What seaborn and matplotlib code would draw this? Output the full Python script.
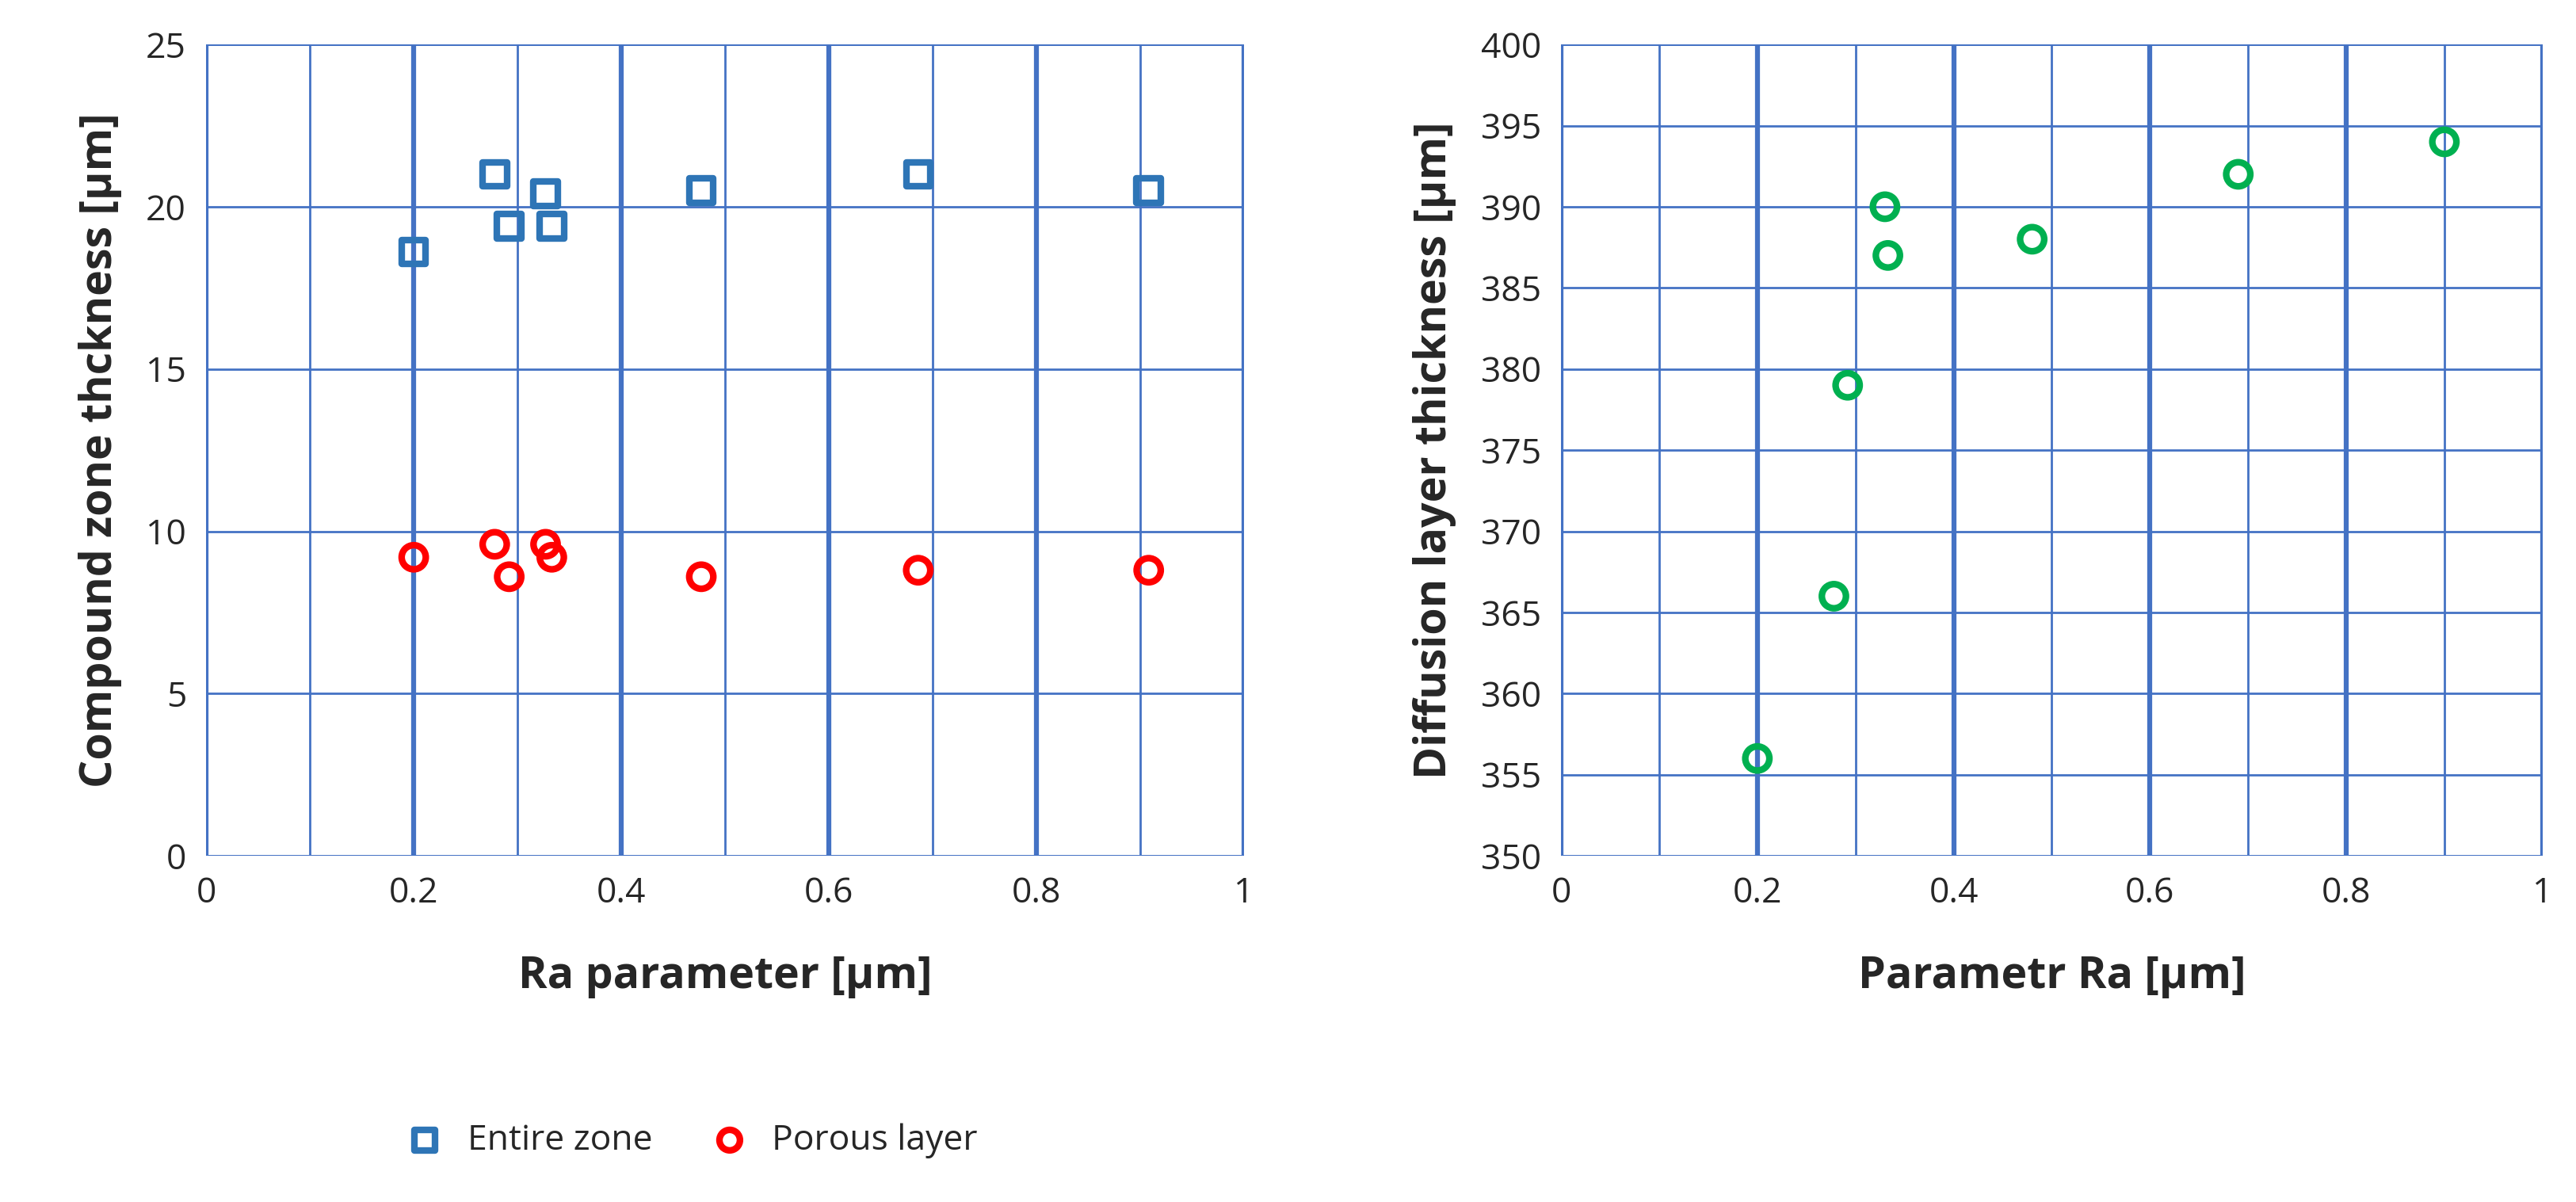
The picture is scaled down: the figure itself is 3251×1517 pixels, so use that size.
import matplotlib
matplotlib.use("Agg")
import matplotlib.pyplot as plt
import seaborn as sns
import pandas as pd
import numpy as np

ra = [0.2, 0.278, 0.292, 0.327, 0.333, 0.477, 0.686, 0.908]
entire = [18.6, 21.0, 19.4, 20.4, 19.4, 20.5, 21.0, 20.5]
porous = [9.2, 9.6, 8.6, 9.6, 9.2, 8.6, 8.8, 8.8]
ra2 = [0.2, 0.278, 0.292, 0.330, 0.333, 0.48, 0.69, 0.90]
diffusion = [356, 366, 379, 390, 387, 388, 392, 394]

sns.set_theme(style="white")
plt.rcParams['font.family'] = ['Open Sans', 'DejaVu Sans']
grid_c = "#4472C4"

fig = plt.figure(figsize=(32.51, 15.17), dpi=100)
ax1 = fig.add_axes([0.080, 0.288, 0.403, 0.675])
ax2 = fig.add_axes([0.606, 0.288, 0.381, 0.675])

df1 = pd.DataFrame({"Ra": ra + ra, "val": entire + porous,
                    "series": ["Entire zone"] * len(ra) + ["Porous layer"] * len(ra)})
ms = 480
lw = 6
sns.scatterplot(data=df1[df1.series == "Entire zone"], x="Ra", y="val", ax=ax1,
                marker="s", s=ms, facecolor="none", edgecolor="#2E75B6", linewidth=lw,
                label="Entire zone", zorder=5)
sns.scatterplot(data=df1[df1.series == "Porous layer"], x="Ra", y="val", ax=ax1,
                marker="o", s=ms, facecolor="none", edgecolor="#FF0000", linewidth=lw,
                label="Porous layer", zorder=5)
df2 = pd.DataFrame({"Ra": ra2, "val": diffusion})
sns.scatterplot(data=df2, x="Ra", y="val", ax=ax2, marker="o", s=ms,
                facecolor="none", edgecolor="#00B050", linewidth=lw, zorder=5)

def style(ax, ylim, ystep, ylabel, xlabel):
    ax.set_xlim(0, 1)
    ax.set_ylim(*ylim)
    ax.set_xticks(np.arange(0, 1.01, 0.2))
    ax.set_xticklabels(["0", "0.2", "0.4", "0.6", "0.8", "1"])
    ax.set_xticks(np.arange(0.1, 1.0, 0.2), minor=True)
    ax.set_yticks(np.arange(ylim[0], ylim[1] + 0.1, ystep))
    ax.grid(True, which="major", axis="x", color=grid_c, linewidth=4.5)
    ax.grid(True, which="minor", axis="x", color=grid_c, linewidth=2)
    ax.grid(True, which="major", axis="y", color=grid_c, linewidth=2)
    for s in ax.spines.values():
        s.set_visible(False)
    ax.axvline(0, color=grid_c, lw=2, zorder=1)
    ax.axvline(1, color=grid_c, lw=2, zorder=1)
    ax.axhline(ylim[0], color=grid_c, lw=2, zorder=1)
    ax.axhline(ylim[1], color=grid_c, lw=2, zorder=1)
    ax.tick_params(axis="both", labelsize=32, length=0, pad=18)
    ax.set_xlabel(xlabel, fontsize=40, fontweight="bold", labelpad=40)
    ax.set_ylabel(ylabel, fontsize=40, fontweight="bold", labelpad=22)
    ax.set_axisbelow(True)

style(ax1, (0, 25), 5, "Compound zone thckness [µm]", "Ra parameter [µm]")
style(ax2, (350, 400), 5, "Diffusion layer thickness [µm]", "Parametr Ra [µm]")

leg = ax1.legend(loc="upper center", bbox_to_anchor=(0.46, -0.29), ncol=2,
                 frameon=False, fontsize=32, markerscale=0.85, handletextpad=0.2,
                 columnspacing=1.2)

fig.savefig("out.png", dpi=100)
